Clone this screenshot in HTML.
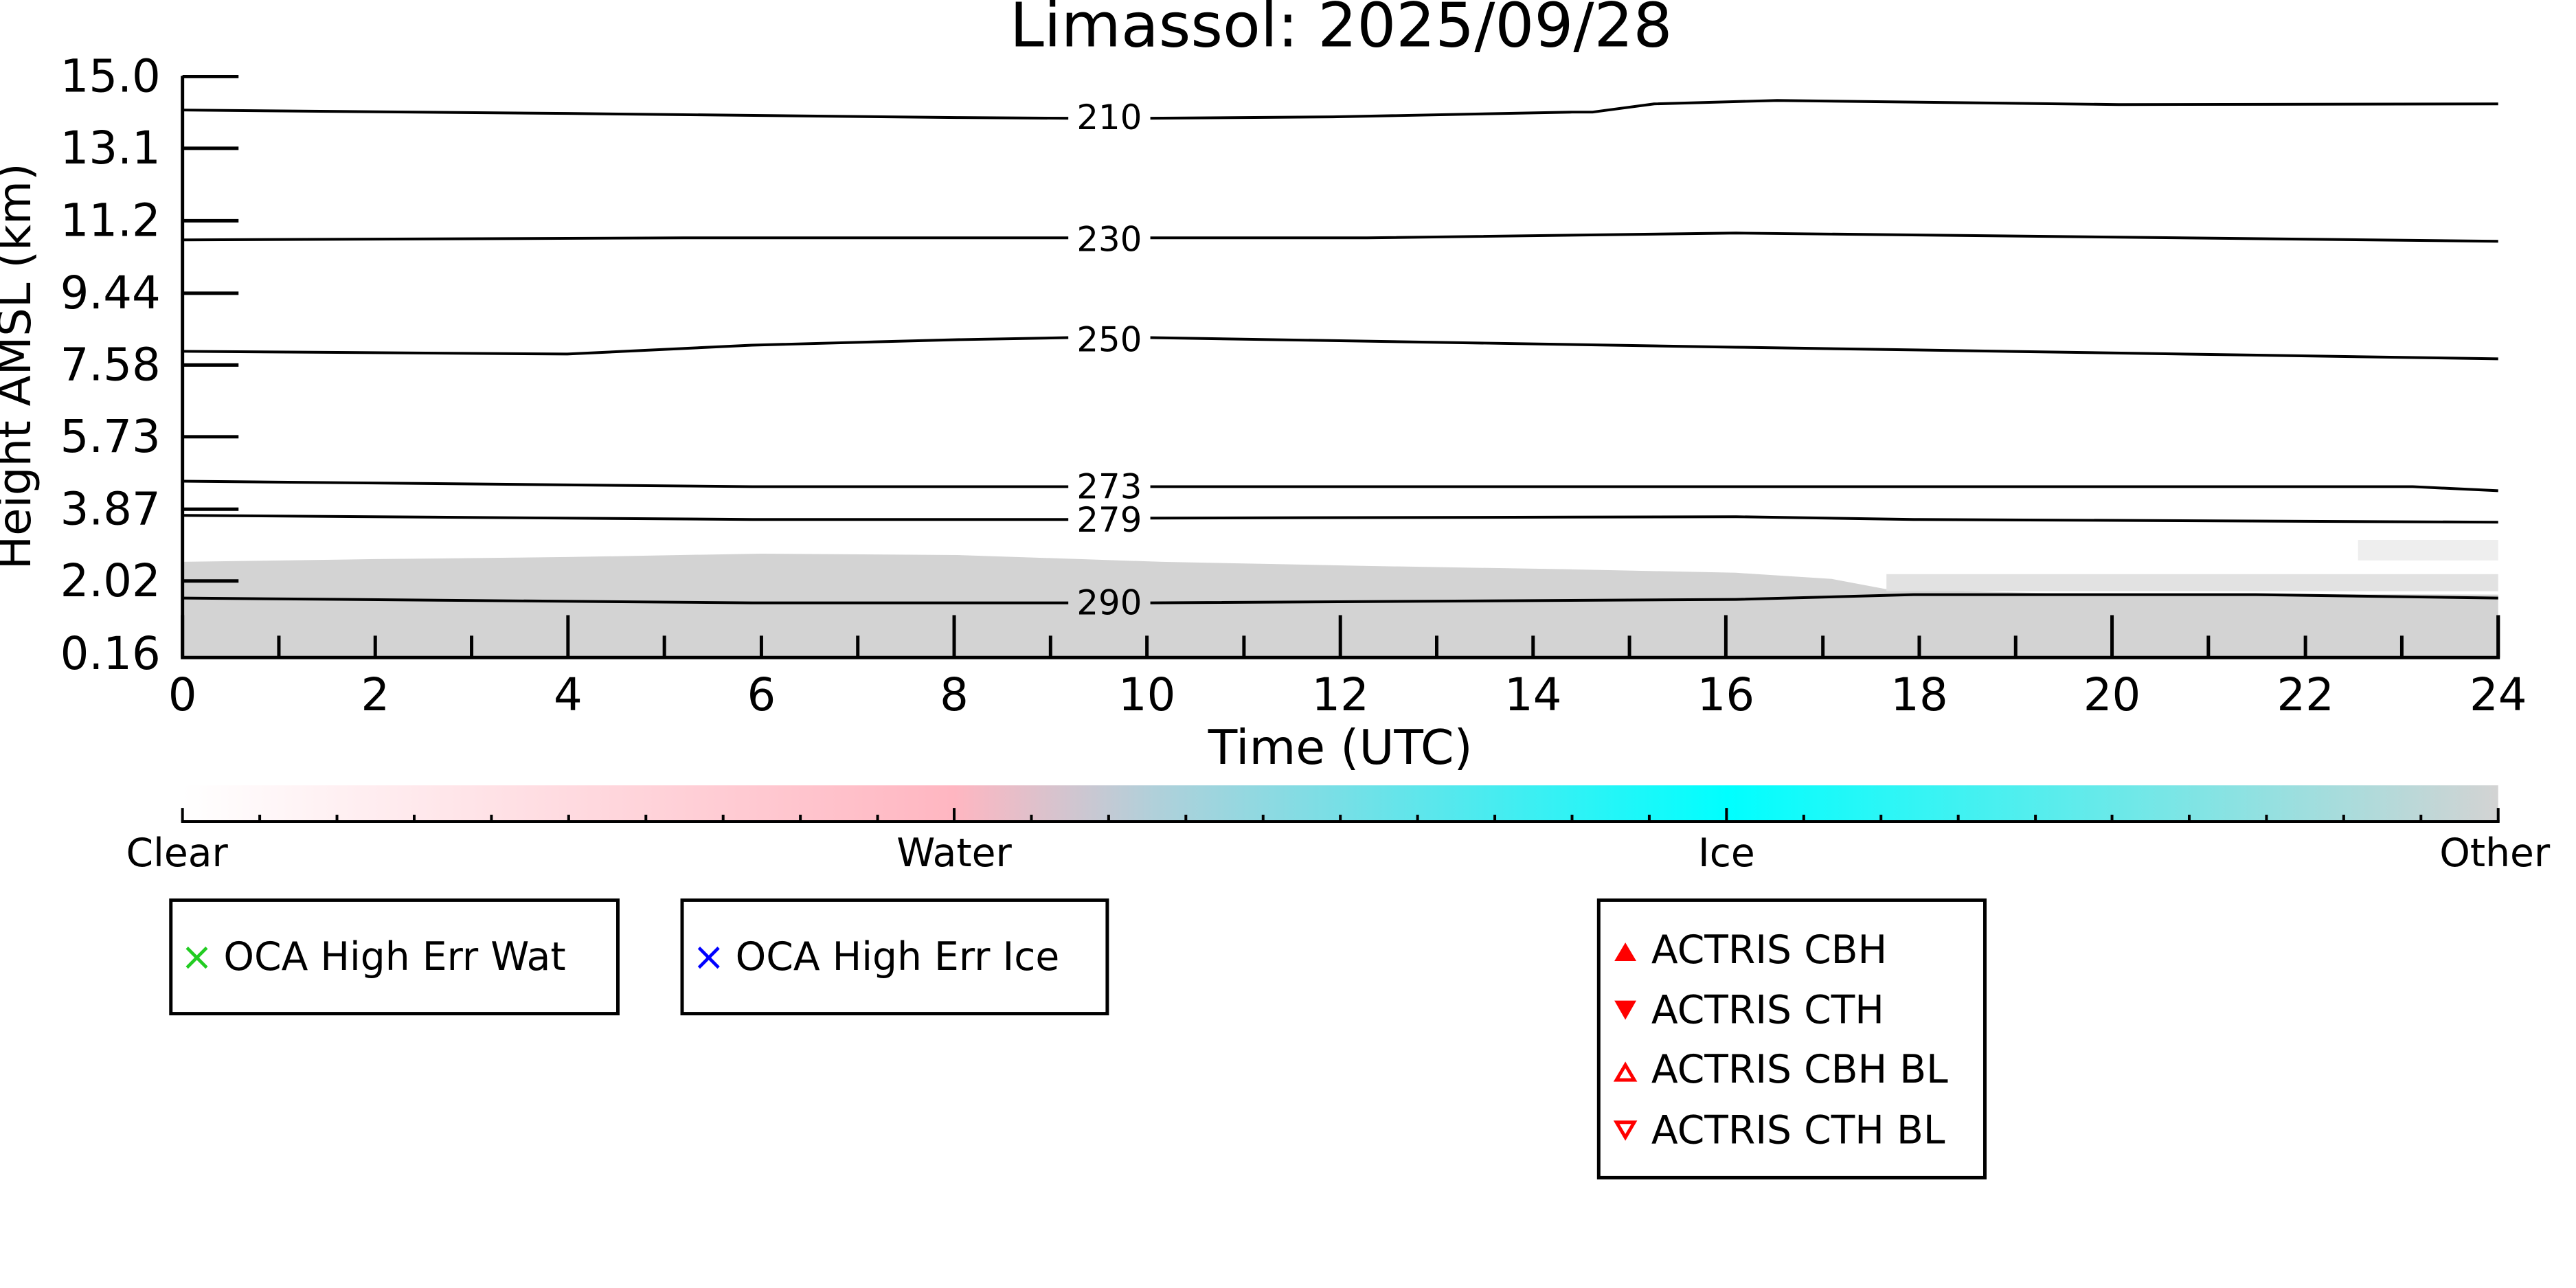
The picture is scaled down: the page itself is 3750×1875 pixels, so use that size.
<!DOCTYPE html>
<html><head><meta charset="utf-8"><style>
html,body{margin:0;padding:0;background:#fff;}
svg{display:block;font-family:"DejaVu Sans","Liberation Sans",sans-serif;}
</style></head><body>
<svg width="3750" height="1875" viewBox="0 0 3750 1875" xmlns="http://www.w3.org/2000/svg">
<defs>
<linearGradient id="cb" x1="0" x2="1" y1="0" y2="0">
<stop offset="0" stop-color="#ffffff"/>
<stop offset="0.333" stop-color="#ffb6c1"/>
<stop offset="0.42" stop-color="#b0d0da"/>
<stop offset="0.667" stop-color="#00ffff"/>
<stop offset="1" stop-color="#d3d3d3"/>
</linearGradient>
</defs>
<g transform="scale(0.995)">
<text x="1962" y="68" font-size="90" text-anchor="middle">Limassol: 2025/09/28</text>
<path d="M267,822 L550,818 L830,815 L1114,810 L1400,812 L1700,822 L2000,828 L2300,833 L2540,838 L2680,847 L2760,862 L3000,868 L3655,870 L3655,962 L267,962 Z" fill="#d3d3d3"/>
<g fill="#e2e2e2">
<rect x="2760" y="840" width="895" height="25"/>
<rect x="3450" y="790" width="205" height="30" opacity="0.6"/>
</g>
<g fill="none" stroke="#000" stroke-width="4">
<path d="M267,161 L830,166 L1400,172 L1563,173 M1683,173 L1950,171 L2300,164 L2330,164 L2420,152 L2600,147 L3100,153 L3655,152"/>
<path d="M267,351 L1000,348 L1563,348 M1683,348 L2000,348 L2540,341 L3655,353"/>
<path d="M267,514 L830,518 L1100,505 L1400,497 L1563,494 M1683,494 L2540,508 L3655,525"/>
<path d="M267,704 L1100,712 L1563,712 M1683,712 L3300,712 L3530,712 L3655,718"/>
<path d="M267,754 L1100,760 L1563,760 M1683,758 L2540,756 L2800,760 L3655,764"/>
<path d="M267,875 L1100,882 L1563,882 M1683,882 L2540,877 L2800,870 L3300,870 L3655,875"/>
</g>
<g font-size="50" text-anchor="middle" dominant-baseline="central">
<text x="1623" y="172">210</text>
<text x="1623" y="350">230</text>
<text x="1623" y="497">250</text>
<text x="1623" y="712">273</text>
<text x="1623" y="761">279</text>
<text x="1623" y="882">290</text>
</g>
<g stroke="#000" stroke-width="5" fill="none">
<path d="M267,111 L267,962 L3655,962 L3655,900"/>
<path d="M267,112h82M267,217h82M267,323h82M267,429h82M267,534h82M267,639h82M267,745h82M267,850h82"/>
<path d="M267,962v-62M408,962v-32M549,962v-32M690,962v-32M831,962v-62M972,962v-32M1114,962v-32M1255,962v-32M1396,962v-62M1537,962v-32M1678,962v-32M1820,962v-32M1961,962v-62M2102,962v-32M2243,962v-32M2384,962v-32M2525,962v-62M2667,962v-32M2808,962v-32M2949,962v-32M3090,962v-62M3231,962v-32M3373,962v-32M3514,962v-32M3655,962v-62"/>
</g>
<g font-size="66" text-anchor="end" dominant-baseline="central">
<text x="235" y="112">15.0</text><text x="235" y="217">13.1</text><text x="235" y="323">11.2</text>
<text x="235" y="429">9.44</text><text x="235" y="534">7.58</text><text x="235" y="639">5.73</text>
<text x="235" y="745">3.87</text><text x="235" y="850">2.02</text><text x="235" y="957">0.16</text>
</g>
<g font-size="66" text-anchor="middle" dominant-baseline="central">
<text x="267" y="1017">0</text><text x="549" y="1017">2</text><text x="831" y="1017">4</text>
<text x="1114" y="1017">6</text><text x="1396" y="1017">8</text><text x="1678" y="1017">10</text>
<text x="1961" y="1017">12</text><text x="2243" y="1017">14</text><text x="2525" y="1017">16</text>
<text x="2808" y="1017">18</text><text x="3090" y="1017">20</text><text x="3373" y="1017">22</text>
<text x="3655" y="1017">24</text>
<text x="1961" y="1094" font-size="70">Time (UTC)</text>
</g>
<text transform="translate(22,536) rotate(-90)" font-size="66" text-anchor="middle" dominant-baseline="central">Height AMSL (km)</text>
<rect x="267" y="1149" width="3388" height="53" fill="url(#cb)"/>
<g stroke="#000" stroke-width="4">
<path d="M265,1202H3657"/>
<path d="M267,1202v-20M380,1202v-10M493,1202v-10M606,1202v-10M719,1202v-10M832,1202v-10M945,1202v-10M1058,1202v-10M1171,1202v-10M1284,1202v-10M1396,1202v-20M1509,1202v-10M1622,1202v-10M1735,1202v-10M1848,1202v-10M1961,1202v-10M2074,1202v-10M2187,1202v-10M2300,1202v-10M2413,1202v-10M2526,1202v-20M2639,1202v-10M2752,1202v-10M2865,1202v-10M2978,1202v-10M3090,1202v-10M3203,1202v-10M3316,1202v-10M3429,1202v-10M3542,1202v-10M3655,1202v-20"/>
</g>
<g font-size="57" text-anchor="middle" dominant-baseline="central">
<text x="259" y="1248">Clear</text><text x="1396" y="1248">Water</text>
<text x="2526" y="1248">Ice</text><text x="3650" y="1248">Other</text>
</g>
<g fill="none" stroke="#000" stroke-width="5">
<rect x="250" y="1317" width="654" height="166"/>
<rect x="998" y="1317" width="622" height="166"/>
<rect x="2339" y="1317" width="565" height="406"/>
</g>
<g font-size="57" dominant-baseline="central">
<text x="288" y="1400" fill="#22cc22" text-anchor="middle">×</text>
<text x="327" y="1400">OCA High Err Wat</text>
<text x="1037" y="1400" fill="#0000ff" text-anchor="middle">×</text>
<text x="1076" y="1400">OCA High Err Ice</text>
<text x="2416" y="1390">ACTRIS CBH</text>
<text x="2416" y="1478">ACTRIS CTH</text>
<text x="2416" y="1565">ACTRIS CBH BL</text>
<text x="2416" y="1654">ACTRIS CTH BL</text>
</g>
<g fill="#ff0000" stroke="#ff0000">
<path d="M2378,1379 L2394,1406 L2362,1406 Z" stroke="none"/>
<path d="M2362,1464 L2394,1464 L2378,1492 Z" stroke="none"/>
<path d="M2378,1558 L2391,1580 L2365,1580 Z" fill="none" stroke-width="5"/>
<path d="M2365,1642 L2391,1642 L2378,1664 Z" fill="none" stroke-width="5"/>
</g>
</g>
</svg>
</body></html>
